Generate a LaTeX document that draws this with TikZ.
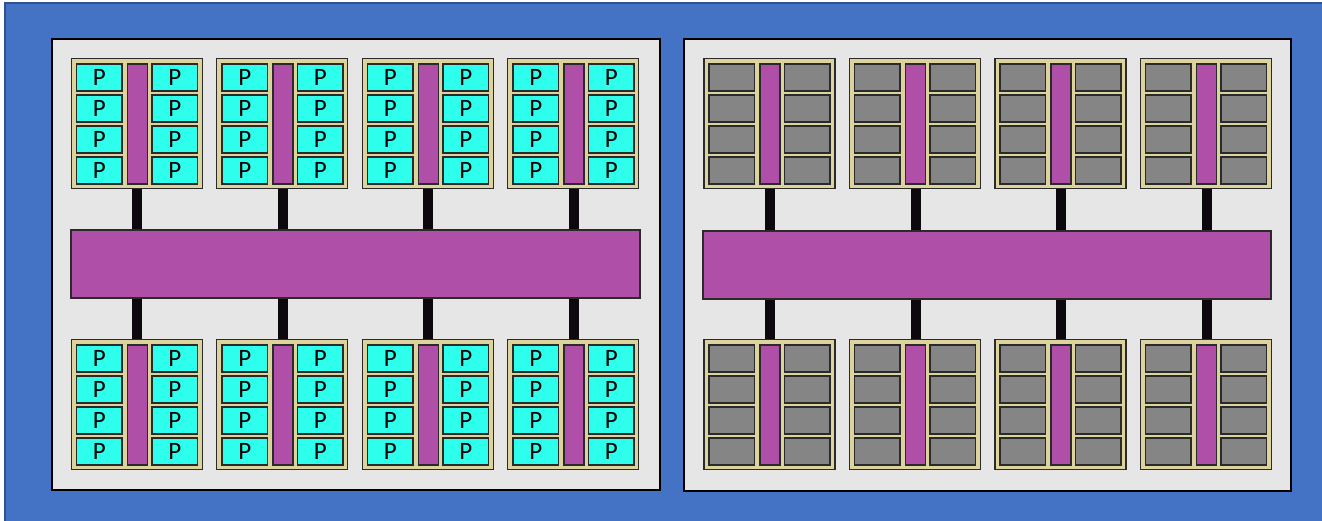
\documentclass[tikz,border=0pt]{standalone}
\usepackage{fontspec}
\newfontfamily\pfont{Carlito}
\newcommand\plabel{{\pfont\fontsize{25}{25}\selectfont P}}
\usetikzlibrary{calc}
\definecolor{bluebg}{HTML}{4472C4}
\definecolor{blueedge}{HTML}{2F528F}
\definecolor{panelbg}{HTML}{E6E6E6}
\definecolor{tanbg}{HTML}{DCD49C}
\definecolor{cyanbg}{HTML}{2EFFEC}
\definecolor{purp}{HTML}{B04FA7}
\definecolor{graycell}{HTML}{858585}
\definecolor{celledge}{HTML}{2A2A2A}
\definecolor{linkc}{HTML}{0C080E}
\pgfdeclarelayer{bg}
\pgfdeclarelayer{lk}
\pgfsetlayers{bg,lk,main}
\tikzset{
  panel/.style={draw=black, fill=panelbg, line width=1.5pt, anchor=north west, inner sep=0pt},
  module/.style={draw=celledge, fill=tanbg, line width=1.2pt, minimum width=131pt, minimum height=130pt, anchor=north west, inner sep=0pt},
  cellbase/.style={draw=celledge, line width=1.6pt, minimum width=45.5pt, minimum height=27pt, anchor=north west, inner sep=0pt},
  pcell/.style={cellbase, fill=cyanbg},
  gcell/.style={cellbase, fill=graycell},
  spine/.style={draw=celledge, fill=purp, line width=1.5pt, minimum width=20pt, minimum height=120pt, anchor=north west, inner sep=0pt},
  bus/.style={draw=celledge, fill=purp, line width=1.5pt, minimum height=68pt, anchor=north west, inner sep=0pt},
  link/.style={draw=linkc, line width=10pt}
}
\begin{document}
\begin{tikzpicture}[x=1pt,y=-1pt]
\useasboundingbox (0,0) rectangle (1322,520);
\begin{pgfonlayer}{bg}
  \fill[bluebg] (5,3) rectangle (1340,540);
  \draw[blueedge, line width=2pt] (5,540) -- (5,3) -- (1340,3);
  \node[panel, minimum width=608pt, minimum height=451pt] (pL) at (51,38) {};
  \node[panel, minimum width=607pt, minimum height=452pt] (pR) at (683,38) {};
\end{pgfonlayer}
\node[bus, minimum width=569pt] (bus1) at (70,229) {};
\node[bus, minimum width=568pt] (bus2) at (702,230) {};
\foreach \p/\ox/\kind in {1/70.7/pcell, 2/703.3/gcell} {
  \foreach \r/\oy in {t/58, b/339} {
    \foreach \i in {0,...,3} {
      \pgfmathsetmacro\mx{\ox+145.5*\i}
      \node[module] (m\p\r\i) at (\mx,\oy) {};
      \node[spine] (s\p\r\i) at ($(m\p\r\i.north west)+(56,5)$) {};
      \foreach \j in {0,...,3} {
        \node[\kind] (cl\p\r\i\j) at ($(m\p\r\i.north west)+(5,{5+31*\j})$) {\ifnum\p=1 \plabel\fi};
        \node[\kind] (cr\p\r\i\j) at ($(m\p\r\i.north west)+(80.5,{5+31*\j})$) {\ifnum\p=1 \plabel\fi};
      }
      \begin{pgfonlayer}{lk}
        \ifx\r t
          \draw[link] (s\p\r\i.south |- m\p\r\i.south) -- (s\p\r\i.south |- bus\p.north);
        \else
          \draw[link] (s\p\r\i.north |- bus\p.south) -- (s\p\r\i.north |- m\p\r\i.north);
        \fi
      \end{pgfonlayer}
    }
  }
}
\end{tikzpicture}
\end{document}
